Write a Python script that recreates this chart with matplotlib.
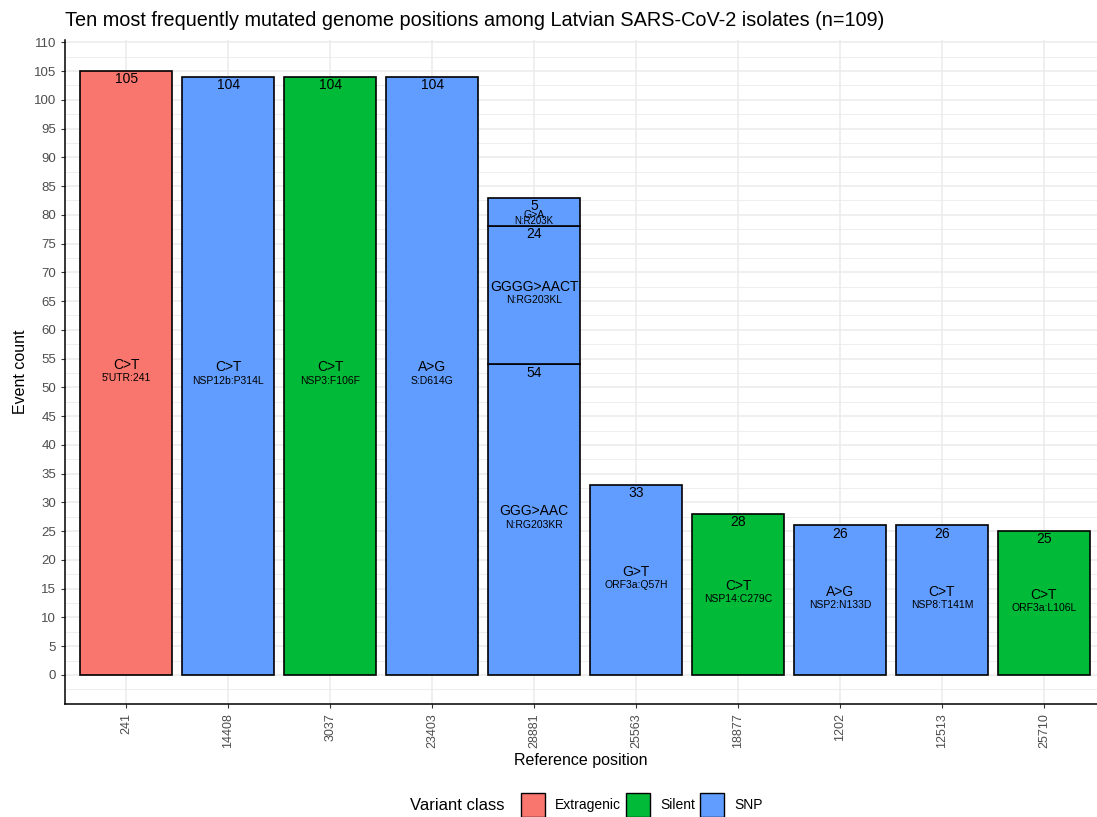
import matplotlib
matplotlib.use('Agg')
import matplotlib.pyplot as plt
from matplotlib.patches import Patch
from matplotlib.ticker import FixedLocator
import numpy as np

plt.rcParams['font.family'] = ['Liberation Sans', 'DejaVu Sans']

# one entry per bar segment (bottom to top within a position)
positions = ['241', '14408', '3037', '23403', '28881', '28881', '28881',
             '25563', '18877', '1202', '12513', '25710']
counts = [105, 104, 104, 104, 54, 24, 5, 33, 28, 26, 26, 25]
mutations = ['C>T', 'C>T', 'C>T', 'A>G', 'GGG>AAC', 'GGGG>AACT', 'G>A',
             'G>T', 'C>T', 'A>G', 'C>T', 'C>T']
annotations = ["5'UTR:241", 'NSP12b:P314L', 'NSP3:F106F', 'S:D614G',
               'N:RG203KR', 'N:RG203KL', 'N:R203K', 'ORF3a:Q57H',
               'NSP14:C279C', 'NSP2:N133D', 'NSP8:T141M', 'ORF3a:L106L']
classes = ['Extragenic', 'SNP', 'Silent', 'SNP', 'SNP', 'SNP', 'SNP',
           'SNP', 'Silent', 'SNP', 'SNP', 'Silent']

class_colors = {'Extragenic': '#F8766D', 'Silent': '#00BA38', 'SNP': '#619CFF'}

order = list(dict.fromkeys(positions))
xpos = {p: i + 1 for i, p in enumerate(order)}

fig = plt.figure(figsize=(10.97, 8.17), dpi=100)
ax = fig.add_axes([65 / 1097, 113 / 817, 1 - 65 / 1097, (704 - 40) / 817])

bottoms = {p: 0 for p in order}
for p, c, m, a, cl in zip(positions, counts, mutations, annotations, classes):
    x = xpos[p]
    b = bottoms[p]
    ax.bar(x, c, bottom=b, width=0.9, color=class_colors[cl],
           edgecolor='black', linewidth=1.2, zorder=3)
    top = b + c
    mid = b + c / 2
    ax.text(x, top - 0.2, str(c), ha='center', va='top', fontsize=10, zorder=4)
    if c < 10:
        # tiny segment: squeezed labels
        ax.annotate(m, (x, mid), xytext=(0, -2), textcoords='offset points',
                    ha='center', va='center', fontsize=7.5, zorder=4)
        ax.annotate(a, (x, mid), xytext=(0, -6.5), textcoords='offset points',
                    ha='center', va='center', fontsize=7, zorder=4)
    else:
        ax.annotate(m, (x, mid), xytext=(0, 1), textcoords='offset points',
                    ha='center', va='bottom', fontsize=10, zorder=4)
        ax.annotate(a, (x, mid), xytext=(0, 0), textcoords='offset points',
                    ha='center', va='top', fontsize=7.5, zorder=4)
    bottoms[p] = top

ax.set_xlim(0.4, 10.52)
ax.set_ylim(-5.05, 110.4)
ax.set_xticks(range(1, len(order) + 1))
ax.set_xticklabels(order, rotation=90, fontsize=9, color='#4D4D4D')
ax.set_yticks(np.arange(0, 111, 5))
ax.yaxis.set_minor_locator(FixedLocator(np.arange(-2.5, 110, 5)))
ax.tick_params(axis='y', which='major', labelsize=9.5, labelcolor='#4D4D4D',
               length=3, color='#333333')
ax.tick_params(axis='y', which='minor', length=0)
ax.tick_params(axis='x', length=3, color='#333333')
ax.grid(True, which='major', color='#EBEBEB', linewidth=1.1, zorder=0)
ax.grid(True, which='minor', axis='y', color='#EBEBEB', linewidth=0.6, zorder=0)
ax.set_axisbelow(True)
for s in ['top', 'right']:
    ax.spines[s].set_visible(False)
for s in ['left', 'bottom']:
    ax.spines[s].set_color('black')
    ax.spines[s].set_linewidth(1.1)

ax.set_xlabel('Reference position', fontsize=11.5, labelpad=4)
ax.set_ylabel('Event count', fontsize=11.5)
fig.text(65 / 1097, 1 - 20 / 817, 'Ten most frequently mutated genome positions among Latvian SARS-CoV-2 isolates (n=109)',
         fontsize=14.3, ha='left', va='center')

handles = [Patch(facecolor=class_colors[k], edgecolor='black', linewidth=1)
           for k in ['Extragenic', 'Silent', 'SNP']]
fig.legend(handles, ['Extragenic', 'Silent', 'SNP'], ncol=3, frameon=False,
           loc='center', bbox_to_anchor=(642 / 1097, 1 - 805 / 817),
           fontsize=10, handlelength=1.73, handleheight=2.28,
           columnspacing=0.36, handletextpad=0.72, borderpad=0.2)
fig.text(505 / 1097, 1 - 805 / 817, 'Variant class', fontsize=12,
         ha='right', va='center')

fig.savefig('out.png', dpi=100)
